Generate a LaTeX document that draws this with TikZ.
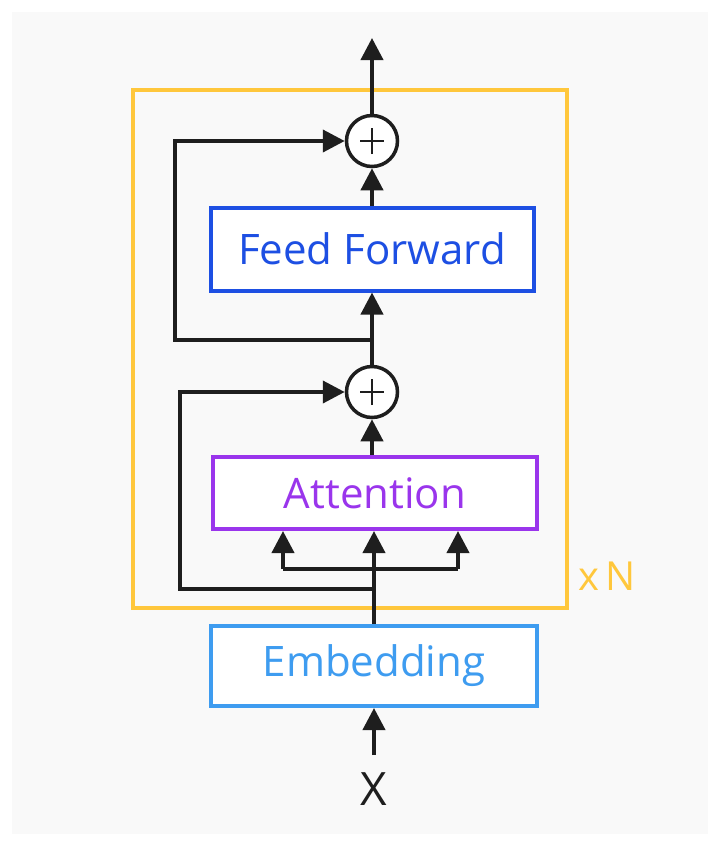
\documentclass[tikz,border=0pt]{standalone}
\usepackage{fontspec}
\setmainfont{Open Sans}
\usetikzlibrary{arrows.meta,calc}
\definecolor{paper}{HTML}{F9F9F9}
\definecolor{ffblue}{HTML}{1D4FE3}
\definecolor{attpurple}{HTML}{9A35EC}
\definecolor{embblue}{HTML}{3E9CF0}
\definecolor{stackyellow}{HTML}{FFC73C}
\definecolor{ink}{HTML}{1E1E1E}
\tikzset{
  layerbox/.style={draw, line width=4pt, fill=white, inner sep=0pt, font=\fontsize{42}{48}\selectfont},
  wire/.style={draw=ink, line width=4pt},
  arr/.style={wire, -{Triangle[length=22pt,width=22pt]}},
  addnode/.style={circle, draw=ink, line width=3.5pt, fill=white, minimum size=51pt, inner sep=0pt,
    path picture={\draw[ink, line width=2.5pt]
      ($(path picture bounding box.center)+(-12pt,0)$) -- ($(path picture bounding box.center)+(12pt,0)$)
      ($(path picture bounding box.center)+(0,-13pt)$) -- ($(path picture bounding box.center)+(0,13pt)$);}}
}
\begin{document}
\begin{tikzpicture}[x=1pt,y=-1pt]
  % page and paper
  \useasboundingbox (0,0) rectangle (720,846);
  \fill[white] (0,0) rectangle (720,846);
  \fill[paper] (12,12) rectangle (708,834);

  % repeated block frame
  \draw[stackyellow, line width=4pt] (133,90) rectangle (567,608);
  \node[text=stackyellow, font=\fontsize{40}{46}\selectfont, anchor=center] (reps) at (607,576) {x\,N};

  % layers
  \node[layerbox, draw=ffblue, text=ffblue, minimum width=323pt, minimum height=83pt] (ff) at (372,249) {Feed Forward};
  \node[layerbox, draw=attpurple, text=attpurple, minimum width=324pt, minimum height=72pt] (att) at (375,493) {Attention};
  \node[layerbox, draw=embblue, text=embblue, minimum width=326pt, minimum height=80pt] (emb) at (374,666) {Embedding};

  % residual adds
  \node[addnode] (addtop) at (372,141) {};
  \node[addnode] (addlow) at (372,392) {};

  % input and output
  \node[font=\fontsize{46}{50}\selectfont, text=ink] (x) at (374,789) {X};
  \coordinate (xin) at (374,755);
  \coordinate (out) at (372,38);

  % branch points on the main path
  \coordinate (tapff) at (372,340);
  \coordinate (tapatt) at (374,589);
  \coordinate (busc) at (374,569);
  \coordinate (busl) at (283,569);
  \coordinate (busr) at (458,569);

  % main path
  \draw[arr] (xin) -- (emb.south);
  \draw[arr] (emb.north -| busc) -- (att.south -| busc);
  \draw[wire] (busl) -- (busr);
  \draw[arr] (busl) -- (busl |- att.south);
  \draw[arr] (busr) -- (busr |- att.south);
  \draw[arr] (att.north -| addlow) -- (addlow.south);
  \draw[arr] (addlow.north) -- (ff.south -| addlow);
  \draw[arr] (ff.north -| addtop) -- (addtop.south);
  \draw[arr] (addtop.north) -- (out);

  % skip connections
  \draw[arr] (tapatt) -- (180,589) -- (180,392) -- (addlow.west);
  \draw[arr] (tapff) -- (175,340) -- (175,141) -- (addtop.west);
\end{tikzpicture}
\end{document}
